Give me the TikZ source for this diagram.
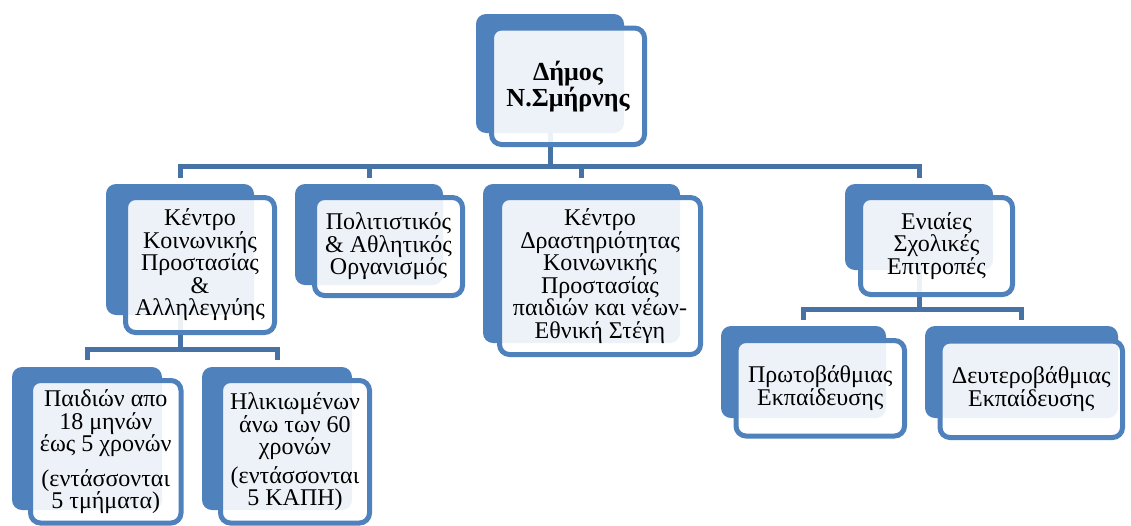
\documentclass[tikz,border=0pt]{standalone}
\usepackage{fontspec}
\setmainfont{Liberation Serif}
\definecolor{boxblue}{RGB}{79,129,189}
\definecolor{connblue}{RGB}{70,114,166}
\tikzset{
  backbox/.style={rectangle, rounded corners=10pt, fill=boxblue, inner sep=0pt},
  frontbox/.style={rectangle, rounded corners=10pt, draw=boxblue, line width=5pt,
    fill=white, fill opacity=0.9, text opacity=1, inner sep=0pt, align=center,
    font=\fontsize{24}{22.5}\selectfont},
  conn/.style={draw=connblue, line width=5pt},
}
\begin{document}
\begin{tikzpicture}[x=1pt,y=-1pt]
\useasboundingbox (0,0) rectangle (1131,525);
% back boxes
\node[backbox, minimum width=148pt, minimum height=119pt] (Tb) at (550,73.5) {};
\node[backbox, minimum width=148pt, minimum height=131pt] (Ab) at (180,249.5) {};
\node[backbox, minimum width=148pt, minimum height=101pt] (Bb) at (369,234.5) {};
\node[backbox, minimum width=197pt, minimum height=159pt] (Cb) at (581.5,263.5) {};
\node[backbox, minimum width=148pt, minimum height=86pt] (Db) at (919,227) {};
\node[backbox, minimum width=165pt, minimum height=92pt] (Eb) at (803.5,372) {};
\node[backbox, minimum width=193pt, minimum height=92pt] (Fb) at (1021.5,372) {};
\node[backbox, minimum width=150pt, minimum height=143pt] (Gb) at (87,438.5) {};
\node[backbox, minimum width=150pt, minimum height=143pt] (Hb) at (277,438.5) {};
% connectors
\coordinate (bus0) at (0,166);
\coordinate (bus1) at (0,349.5);
\coordinate (bus2) at (0,309.5);
\draw[conn] (Tb.south) -- (Tb.south |- bus0);
\draw[conn] ([yshift=6pt]Ab.north) |- (Db.north |- bus0) -- ([yshift=6pt]Db.north);
\draw[conn] ([yshift=6pt]Bb.north) -- (Bb.north |- bus0);
\draw[conn] ([yshift=6pt]Cb.north) -- (Cb.north |- bus0);
\draw[conn] (Ab.south) -- (Ab.south |- bus1);
\draw[conn] ([yshift=7pt]Gb.north) |- (Hb.north |- bus1) -- ([yshift=7pt]Hb.north);
\draw[conn] (Db.south) -- (Db.south |- bus2);
\draw[conn] ([yshift=6pt]Eb.north) |- (Fb.north |- bus2) -- ([yshift=6pt]Fb.north);
% front boxes
\node[frontbox, minimum width=153pt, minimum height=116.5pt,
  font=\fontsize{26}{24.5}\selectfont\bfseries] (T) at (568,86.25) {Δήμος\\Ν.Σμήρνης};
\node[frontbox, minimum width=149pt, minimum height=135pt] (A) at (200,265)
  {Κέντρο\\Κοινωνικής\\Προστασίας\\\&\\Αλληλεγγύης};
\node[frontbox, minimum width=148pt, minimum height=98pt] (B) at (388.5,246.5)
  {Πολιτιστικός\\\& Αθλητικός\\Οργανισμός};
\node[frontbox, minimum width=201pt, minimum height=157pt] (C) at (600,276)
  {Κέντρο\\Δραστηριότητας\\Κοινωνικής\\Προστασίας\\παιδιών και νέων-\\Εθνική Στέγη};
\node[frontbox, minimum width=152pt, minimum height=97pt] (D) at (936.5,246)
  {Ενιαίες\\Σχολικές\\Επιτροπές};
\node[frontbox, minimum width=168.5pt, minimum height=95.5pt] (E) at (820.25,388.25)
  {Πρωτοβάθμιας\\Εκπαίδευσης};
\node[frontbox, minimum width=182.5pt, minimum height=96.5pt] (F) at (1031.25,389.25)
  {Δευτεροβάθμιας\\Εκπαίδευσης};
\node[frontbox, minimum width=150.5pt, minimum height=142.5pt] (G) at (105.75,451.75)
  {Παιδιών απο\\18 μηνών\\έως 5 χρονών\\[12pt](εντάσσονται\\5 τμήματα)};
\node[frontbox, minimum width=149pt, minimum height=142.5pt] (H) at (295,451.75)
  {Ηλικιωμένων\\άνω των 60\\χρονών\\[6pt](εντάσσονται\\5 ΚΑΠΗ)};
\end{tikzpicture}
\end{document}
